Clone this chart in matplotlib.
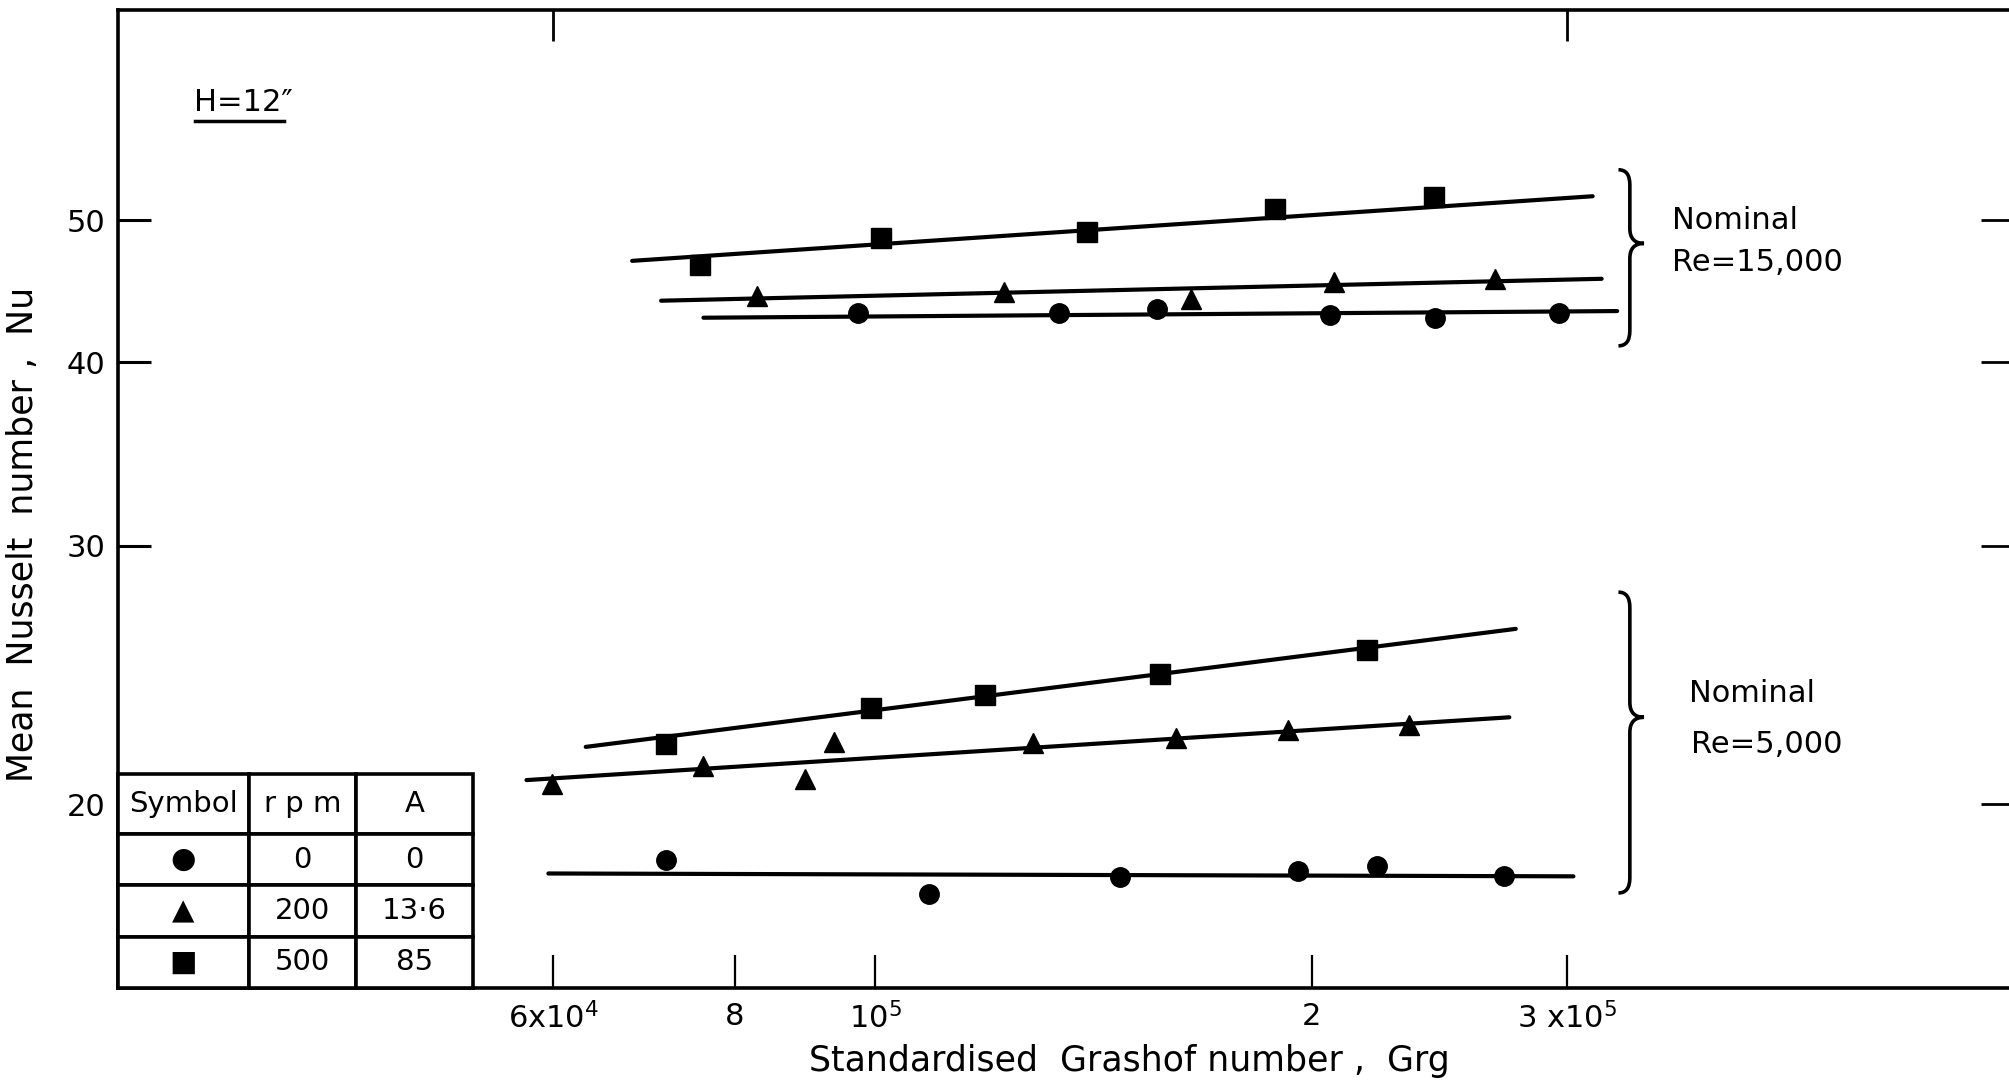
import numpy as np
import matplotlib.pyplot as plt
from matplotlib.path import Path
from matplotlib.patches import PathPatch
from matplotlib.lines import Line2D

# ---- data (Grg, Nu) ----
# Nominal Re = 15,000
hi_sq_x = [75700, 101000, 139900, 188600, 242800]
hi_sq_y = [46.6, 48.6, 49.1, 50.9, 51.8]
hi_tri_x = [82900, 122800, 165200, 207100, 267700]
hi_tri_y = [44.4, 44.7, 44.2, 45.4, 45.6]
hi_circ_x = [97400, 133800, 156400, 205800, 243200, 296200]
hi_circ_y = [43.2, 43.2, 43.5, 43.1, 42.9, 43.2]
hi_sq_line_x, hi_sq_line_y = [68000, 312400], [46.9, 51.9]
hi_tri_line_x, hi_tri_line_y = [71200, 316900], [44.06, 45.6]
hi_circ_line_x, hi_circ_line_y = [76150, 324800], [42.9, 43.35]

# Nominal Re = 5,000
lo_sq_x = [71800, 99400, 119100, 157100, 218400]
lo_sq_y = [21.98, 23.26, 23.73, 24.55, 25.50]
lo_tri_x = [59900, 76100, 89400, 93700, 128400, 161300, 192500, 233500]
lo_tri_y = [20.65, 21.24, 20.82, 22.07, 22.03, 22.21, 22.48, 22.65]
lo_circ_x = [71800, 108900, 147500, 195600, 222000, 271500]
lo_circ_y = [18.34, 17.38, 17.84, 18.02, 18.16, 17.87]
lo_sq_line_x, lo_sq_line_y = [63170, 276500], [21.89, 26.34]
lo_tri_line_x, lo_tri_line_y = [57500, 273700], [20.78, 22.93]
lo_circ_line_x, lo_circ_line_y = [59530, 303000], [17.95, 17.87]

# brace extents (Nu): top, bottom, tip
hi_brace = [54.1, 41.05, 48.2]
lo_brace = [27.9, 17.41, 22.93]

xticks = [6e4, 8e4, 1e5, 2e5, 3e5]
xticklabels = ['6x10$^4$', '8', '10$^5$', '2', '3 x10$^5$']
xticks_top = [6e4, 3e5]
yticks = [20, 30, 40, 50]

table_rows = [['Symbol', 'r p m', 'A'],
              ['\u25cf', '0', '0'],
              ['\u25b2', '200', '13\u00b76'],
              ['\u25a0', '500', '85']]

FS = 22
LW = 2.6
plt.rcParams['font.family'] = ['DejaVu Sans']

fig = plt.figure(figsize=(20.09, 10.85), dpi=100)
ax = fig.add_axes([0.0587, 0.0894, 0.9413, 0.9014])
ax.set_xscale('log')
ax.set_yscale('log')
ax.set_xlim(30060, 605000)
ax.set_ylim(15.0, 69.5)

ms = 14
for xs, ys, mk in [(hi_sq_x, hi_sq_y, 's'), (hi_tri_x, hi_tri_y, '^'), (hi_circ_x, hi_circ_y, 'o'),
                   (lo_sq_x, lo_sq_y, 's'), (lo_tri_x, lo_tri_y, '^'), (lo_circ_x, lo_circ_y, 'o')]:
    ax.plot(xs, ys, linestyle='none', marker=mk, color='black', markersize=ms)

for xs, ys in [(hi_sq_line_x, hi_sq_line_y), (hi_tri_line_x, hi_tri_line_y),
               (hi_circ_line_x, hi_circ_line_y), (lo_sq_line_x, lo_sq_line_y),
               (lo_tri_line_x, lo_tri_line_y), (lo_circ_line_x, lo_circ_line_y)]:
    ax.plot(xs, ys, color='black', lw=3, solid_capstyle='round')

# axes styling
ax.minorticks_off()
ax.set_xticks(xticks)
ax.set_xticklabels(xticklabels)
ax.set_yticks(yticks)
ax.set_yticklabels([str(v) for v in yticks])
ax.tick_params(axis='x', which='both', direction='in', length=24, width=1.6, pad=10,
               labelsize=FS, bottom=True, top=False)
ax.tick_params(axis='y', which='both', direction='in', length=24, width=2.2, pad=9,
               labelsize=FS, left=True, right=False)
for s in ['left', 'bottom', 'top']:
    ax.spines[s].set_linewidth(LW)
ax.spines['right'].set_visible(False)

ax_top = ax.twiny()
ax_top.set_xscale('log')
ax_top.set_xlim(ax.get_xlim())
ax_top.minorticks_off()
ax_top.set_xticks(xticks_top)
ax_top.set_xticklabels([])
ax_top.tick_params(axis='x', which='both', direction='in', length=22, width=2.0)
for s in ax_top.spines.values():
    s.set_visible(False)

ax_r = ax.twinx()
ax_r.set_yscale('log')
ax_r.set_ylim(ax.get_ylim())
ax_r.minorticks_off()
ax_r.set_yticks(yticks)
ax_r.set_yticklabels([])
ax_r.tick_params(axis='y', which='both', direction='in', length=20, width=2.0)
for s in ax_r.spines.values():
    s.set_visible(False)

ax.set_xlabel('Standardised  Grashof number ,  Grg', fontsize=FS + 3)
ax.xaxis.set_label_coords(0.535, -0.057)
ax.set_ylabel('Mean  Nusselt  number ,  Nu', fontsize=FS + 3)
ax.yaxis.set_label_coords(-0.041, 0.464)

# H = 12" label with underline
ax.text(0.040, 0.905, 'H=12\u2033', transform=ax.transAxes, fontsize=FS,
        ha='left', va='center')
ax.add_line(Line2D([0.041, 0.088], [0.886, 0.886], transform=ax.transAxes,
                   color='black', lw=2.5))

# nominal Re labels
ax.text(0.822, 0.785, 'Nominal', transform=ax.transAxes, fontsize=FS, va='center')
ax.text(0.822, 0.742, 'Re=15,000', transform=ax.transAxes, fontsize=FS, va='center')
ax.text(0.831, 0.301, 'Nominal', transform=ax.transAxes, fontsize=FS, va='center')
ax.text(0.832, 0.249, 'Re=5,000', transform=ax.transAxes, fontsize=FS, va='center')


def brace(ax, x_ax, top, bot, tip, w=0.0075, d=0.0153):
    lo, hi = np.log10(ax.get_ylim())
    f = lambda v: (np.log10(v) - lo) / (hi - lo)
    t, b, m = f(top), f(bot), f(tip)
    h = w * 0.8
    verts = [(x_ax - h, t), (x_ax, t), (x_ax, t - d),
             (x_ax, m + d), (x_ax, m), (x_ax + w, m),
             (x_ax, m), (x_ax, m - d),
             (x_ax, b + d), (x_ax, b), (x_ax - h, b)]
    codes = [Path.MOVETO, Path.CURVE3, Path.CURVE3,
             Path.LINETO, Path.CURVE3, Path.CURVE3,
             Path.CURVE3, Path.CURVE3,
             Path.LINETO, Path.CURVE3, Path.CURVE3]
    ax.add_patch(PathPatch(Path(verts, codes), transform=ax.transAxes,
                           fill=False, lw=2.6, edgecolor='black'))


brace(ax, 0.7995, *hi_brace)
brace(ax, 0.7995, *lo_brace)

# symbol table in the lower-left corner
tab = ax.table(cellText=table_rows, cellLoc='center',
               colWidths=[102, 84, 91], bbox=[0.0, 0.0, 0.1877, 0.2189])
tab.auto_set_font_size(False)
tab.set_fontsize(FS - 1)
for (r, c), cell in tab.get_celld().items():
    cell.set_linewidth(LW)
    cell.set_height(47 if r == 0 else 40)
tab.set_zorder(5)

fig.savefig('out.png', dpi=100)
